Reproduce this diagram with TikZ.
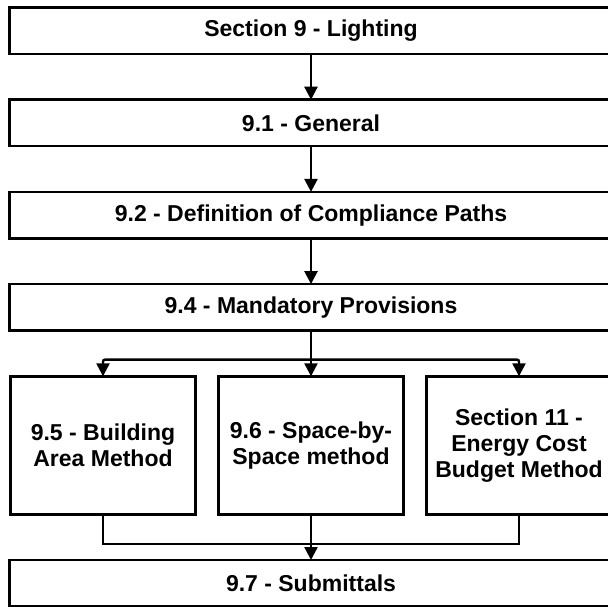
\documentclass[tikz,border=0pt]{standalone}
\usepackage{fontspec}
\setmainfont{Liberation Sans}
\usetikzlibrary{arrows.meta,positioning}

\begin{document}
\begin{tikzpicture}[x=1pt,y=-1pt,node distance=45.7pt,line width=2.4pt,>={Triangle[length=13pt,width=13pt]}]
    \tikzstyle{wide}=[draw,minimum width=603.4pt,minimum height=46.5pt,inner sep=0pt,outer sep=0pt,font=\bfseries\fontsize{23}{26}\selectfont]
    \tikzstyle{tall}=[wide,minimum width=185pt,minimum height=138pt,align=center]

    \useasboundingbox (0,0) rectangle (608,607);
    \clip (0,0) rectangle (608,607);

    \node[wide] (sect) at (311,30.75) {Section 9 - Lighting};
    \node[wide] (gen) [below=of sect] {9.1 - General};
    \node[wide] (paths) [below=of gen] {9.2 - Definition of Compliance Paths};
    \node[wide] (mand) [below=of paths] {9.4 - Mandatory Provisions};
    \node[tall] (space) [below=of mand] {9.6 - Space-by-\\Space method};
    \node[tall] (area) [left=23pt of space] {9.5 - Building\\Area Method};
    \node[tall] (ecb) [right=23pt of space] {Section 11 -\\Energy Cost\\Budget Method};
    \node[wide] (subm) [below=of space] {9.7 - Submittals};

    \coordinate [below=29pt of mand] (split);
    \coordinate [below=29.5pt of space] (merge);

    \path[->]
    (sect) edge (gen)
    (gen) edge (paths)
    (paths) edge (mand)
    (mand) edge (space)
    (space) edge (subm);

    \draw[->,rounded corners=2pt] (split) -| (area);
    \draw[->,rounded corners=2pt] (split) -| (ecb);
    \draw (area) |- (merge) -| (ecb);
\end{tikzpicture}
\end{document}
